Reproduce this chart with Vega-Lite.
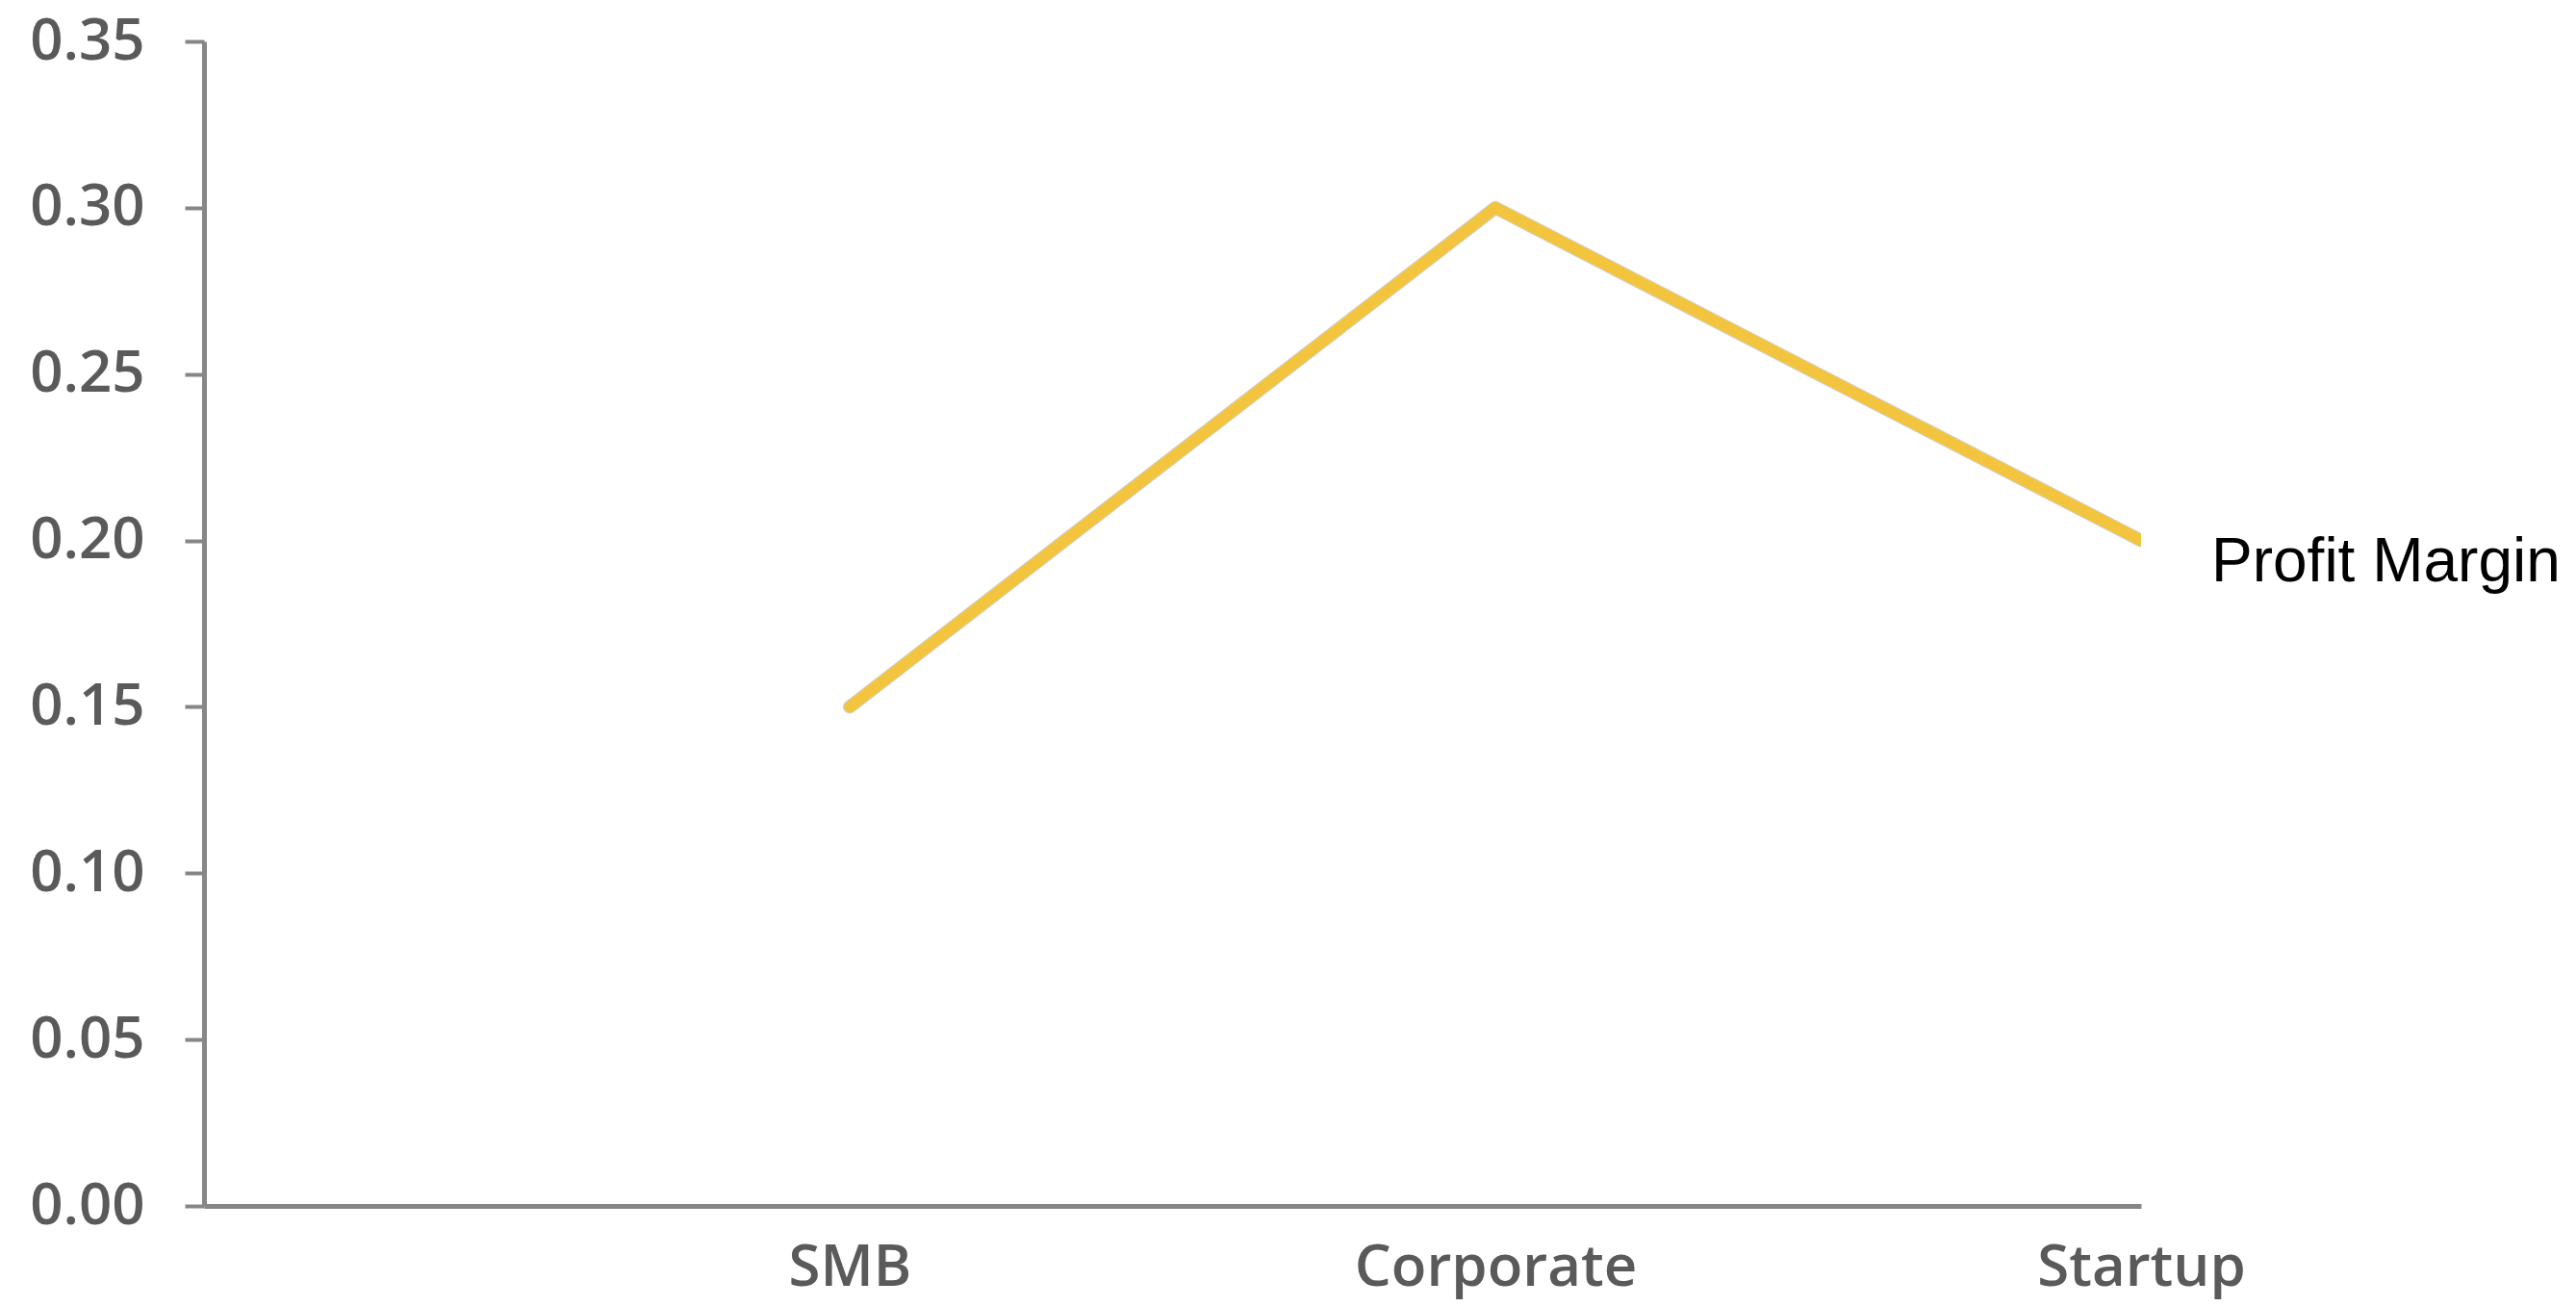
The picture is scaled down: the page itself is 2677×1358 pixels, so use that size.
{
  "$schema": "https://vega.github.io/schema/vega-lite/v6.json",
  "width": 2013,
  "height": 1210,
  "autosize": {"type": "none"},
  "padding": {"left": 212, "top": 43, "right": 452, "bottom": 105},
  "background": "#ffffff",
  "config": {
    "view": {"stroke": null},
    "axis": {
      "labelFont": "Open Sans",
      "labelFontSize": 60,
      "labelFontWeight": 600,
      "labelColor": "#5a5a5a",
      "labelLimit": 0,
      "domainColor": "#868686",
      "domainWidth": 5,
      "tickColor": "#868686",
      "tickWidth": 4,
      "grid": false,
      "title": null
    }
  },
  "data": {
    "values": [
      {"segment": "SMB", "margin": 0.15, "series": "Profit Margin"},
      {"segment": "Corporate", "margin": 0.30, "series": "Profit Margin"},
      {"segment": "Startup", "margin": 0.20, "series": "Profit Margin"}
    ]
  },
  "encoding": {
    "x": {
      "field": "segment",
      "type": "ordinal",
      "scale": {"type": "point", "domain": ["", "SMB", "Corporate", "Startup"], "padding": 0},
      "axis": {"ticks": false, "labelAngle": 0, "labelPadding": 35, "labelAlign": "center"}
    },
    "y": {
      "field": "margin",
      "type": "quantitative",
      "scale": {"domain": [0, 0.35], "nice": false},
      "axis": {
        "values": [0, 0.05, 0.1, 0.15, 0.2, 0.25, 0.3, 0.35],
        "format": ".2f",
        "tickSize": 20,
        "labelPadding": 42
      }
    }
  },
  "layer": [
    {
      "mark": {"type": "line", "stroke": "#9a9a9a", "strokeWidth": 14, "opacity": 0.45, "strokeCap": "round", "strokeJoin": "round", "clip": true}
    },
    {
      "mark": {"type": "line", "stroke": "#F3C53F", "strokeWidth": 12, "strokeCap": "round", "strokeJoin": "round", "clip": true}
    },
    {
      "transform": [{"filter": "datum.segment === 'Startup'"}],
      "mark": {"type": "text", "align": "left", "baseline": "alphabetic", "dx": 73, "dy": 42, "font": "Liberation Sans", "fontSize": 64, "color": "#000000"},
      "encoding": {"text": {"field": "series"}}
    }
  ]
}
